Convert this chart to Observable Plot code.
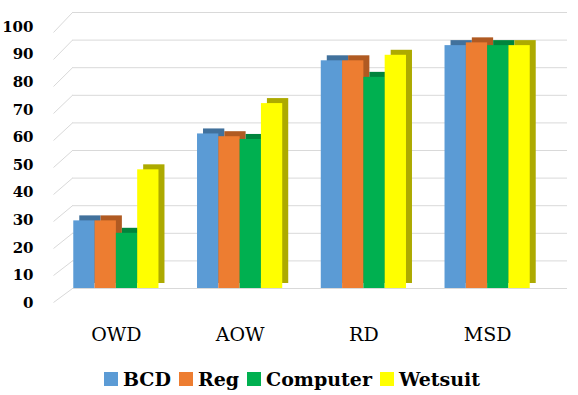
<!DOCTYPE html>
<html>
<head>
<meta charset="utf-8">
<script src="https://cdn.jsdelivr.net/npm/d3@7"></script>
<script src="https://cdn.jsdelivr.net/npm/@observablehq/plot@0.6"></script>
<style>
  body { margin: 0; background: #fff; font-family: "DejaVu Serif", serif; }
  #chart { width: 578px; height: 362px; }
  #legend { display: flex; justify-content: center; align-items: center; gap: 8px;
            height: 33px; font-weight: bold; font-size: 19px; color: #000; padding-left: 6px; }
  .item { display: flex; align-items: center; gap: 5px; }
  .sw { width: 14px; height: 14px; display: inline-block; }
</style>
</head>
<body>
<div id="chart"></div>
<div id="legend"></div>
<script>
// ---- data ----
const groups = ["OWD", "AOW", "RD", "MSD"];
const series = ["BCD", "Reg", "Computer", "Wetsuit"];
const BCD      = [24.5, 56, 82.5, 88];
const Reg      = [24.5, 55, 82.5, 89];
const Computer = [20,   54, 76.5, 88];
const Wetsuit  = [43,   67, 84.5, 88];
const yTicks = [0, 10, 20, 30, 40, 50, 60, 70, 80, 90, 100];

// ---- styling ----
const FONT = '"DejaVu Serif", serif';
const colors = ["#5B9BD5", "#ED7D31", "#00B050", "#FFFF00"];
const darkColors = ["#41719C", "#B05A22", "#00843C", "#ADAA00"];
const W = 578, H = 362, ML = 72, MR = 11, MT = 12, MB = 74;
const pxX = (W - ML - MR) / groups.length;   // px per group unit
const pxY = (H - MT - MB) / 100;             // px per value unit
const barW = 21.3 / pxX;                     // bar width in group units
const depthX = 19 / pxX;                     // side-wall depth
const drop = v => (14 + 0.06 * v) / pxY;     // side-wall perspective drop

const seriesValues = [BCD, Reg, Computer, Wetsuit];
const table = [];
groups.forEach((g, gi) => {
  series.forEach((s, si) => {
    const x1 = gi + 0.5 - 2 * barW + si * barW;
    table.push({group: g, series: s, gi, si, value: seriesValues[si][gi], x1, x2: x1 + barW});
  });
});

const chart = Plot.plot({
  width: W, height: H,
  marginLeft: ML, marginRight: MR, marginTop: MT, marginBottom: MB,
  style: {fontFamily: FONT, background: "white", color: "#000"},
  x: {domain: [0, groups.length], axis: null},
  y: {domain: [0, 100], axis: null},
  color: {type: "identity"},
  marks: [
    Plot.ruleY(yTicks, {stroke: "#D9D9D9", strokeWidth: 1}),
    Plot.link(yTicks, {x1: () => -depthX, x2: () => 0, y1: d => d - drop(d), y2: d => d,
                       stroke: "#D9D9D9", strokeWidth: 1}),
    Plot.text(yTicks, {x: () => 0, y: d => d, text: d => String(d), textAnchor: "end",
                       dx: -39, dy: 14.5, fontWeight: "bold", fontSize: 15, fill: "#000"}),
    // 3D top/side faces
    Plot.rect(table, {x1: "x1", x2: "x2", y1: () => 0, y2: "value",
                      fill: d => darkColors[d.si], dx: -12, dy: -5}),
    // front faces
    Plot.rect(table, {x1: "x1", x2: "x2", y1: () => 0, y2: "value",
                      fill: d => colors[d.si], dx: -18}),
    Plot.text(groups, {x: (d, i) => i + 0.5, y: () => 0, text: d => d,
                       dx: -18, dy: 46, fontSize: 19, fill: "#000"})
  ]
});
document.getElementById("chart").appendChild(chart);

const legend = document.getElementById("legend");
series.forEach((s, i) => {
  const item = document.createElement("span");
  item.className = "item";
  const sw = document.createElement("span");
  sw.className = "sw";
  sw.style.background = colors[i];
  const t = document.createElement("span");
  t.textContent = s;
  item.appendChild(sw);
  item.appendChild(t);
  legend.appendChild(item);
});
</script>
</body>
</html>
